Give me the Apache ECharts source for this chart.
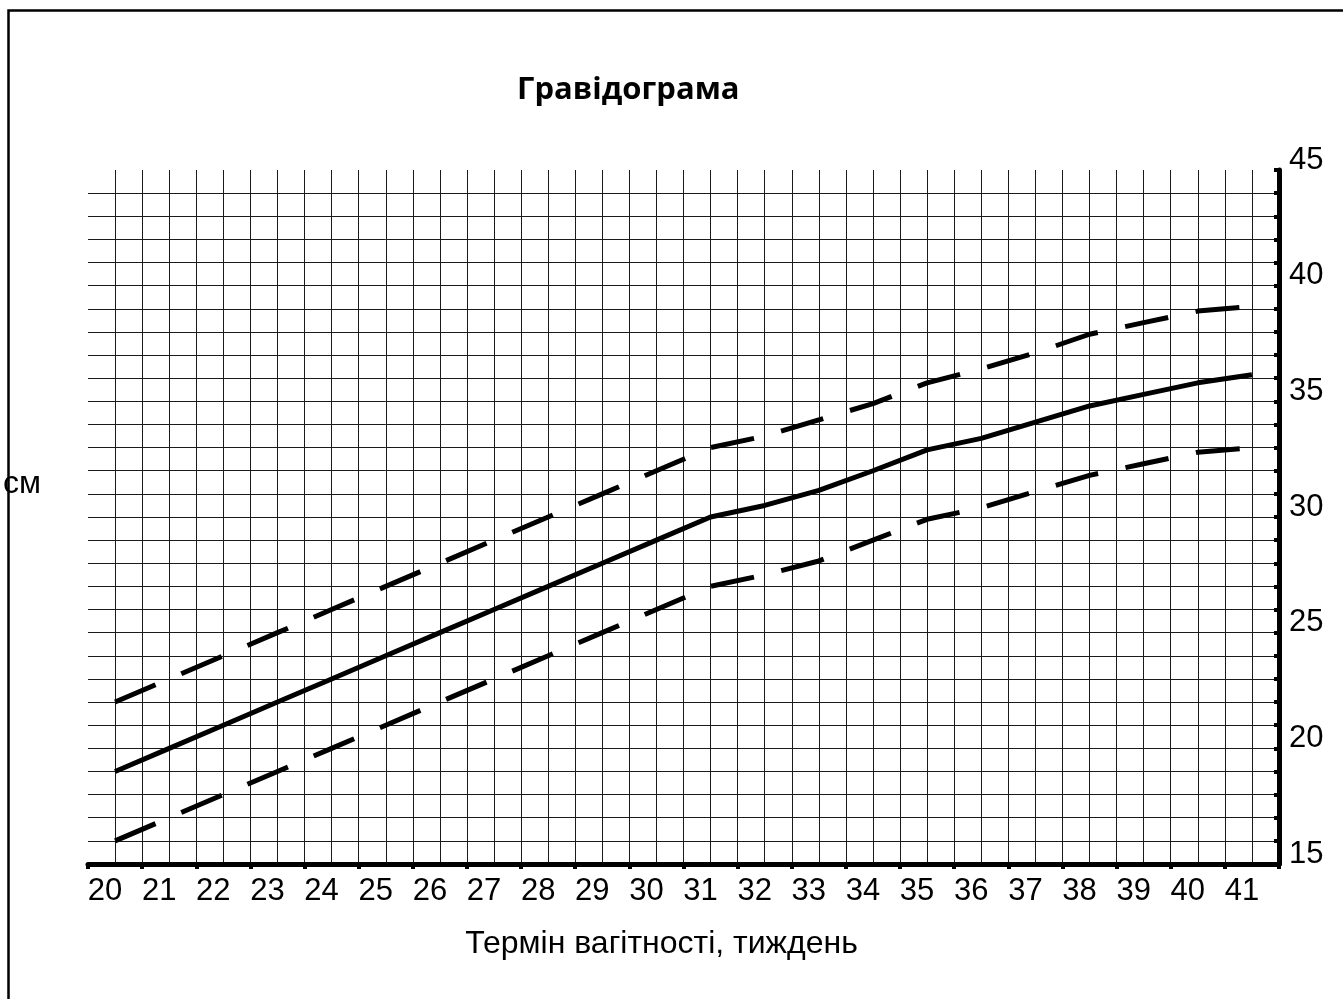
<!DOCTYPE html>
<html>
<head>
<meta charset="utf-8">
<script src="https://cdn.jsdelivr.net/npm/echarts@6/dist/echarts.min.js"></script>
<style>
html,body{margin:0;padding:0;background:#fff;}
#chart{width:1343px;height:999px;}
</style>
</head>
<body>
<div id="chart"></div>
<script>
// Categories: gestation week
const weeks = ['20','21','22','23','24','25','26','27','28','29','30','31','32','33','34','35','36','37','38','39','40','41'];
// Fundal height, cm (median and bounds)
const median = [19,20,21,22,23,24,25,26,27,28,29,30,30.5,31.15,32,32.9,33.4,34.1,34.8,35.3,35.8,36.15];
const upper  = [22,23,24,25,26,27,28,29,30,31,32,33,33.5,34.2,34.9,35.8,36.4,37.1,37.9,38.4,38.9,39.1];
const lower  = [16,17,18,19,20,21,22,23,24,25,26,27,27.5,28.1,29,29.9,30.4,31.1,31.8,32.3,32.8,33.0];
// Y axis range and labelled ticks
const yMin = 15, yMax = 45;
const yLabelStep = 5;

const titleText = 'Гравідограма';
const xName = 'Термін вагітності, тиждень';
const yName = 'см';

const chart = echarts.init(document.getElementById('chart'), null, {renderer:'canvas'});
const lineBase = {type:'line', symbol:'none', silent:true, xAxisIndex:0, yAxisIndex:0};
chart.setOption({
  animation:false,
  backgroundColor:'#fff',
  title:{
    text:titleText, left:512, top:70,
    textStyle:{fontFamily:'Open Sans', fontWeight:'bold', fontSize:31, color:'#000'}
  },
  grid:{left:88, top:170, right:64, bottom:135},
  xAxis:[
    {
      type:'category', data:weeks, boundaryGap:true, position:'bottom',
      axisLine:{show:true, onZero:false, lineStyle:{color:'#000', width:5}},
      axisTick:{show:true, interval:0, length:5, lineStyle:{color:'#000', width:4}},
      axisLabel:{interval:0, color:'#000', fontSize:31, fontFamily:'Liberation Sans', margin:12, padding:[0,20,0,0]},
      splitLine:{show:false},
      name:xName, nameLocation:'middle', nameGap:64,
      nameTextStyle:{color:'#000', fontSize:32, fontFamily:'Liberation Sans', padding:[0,44,0,0]}
    },
    {
      type:'value', min:0, max:44, interval:1, position:'top',
      axisLine:{show:false, onZero:false}, axisTick:{show:false}, axisLabel:{show:false},
      splitLine:{show:true, showMinLine:false, showMaxLine:false, lineStyle:{color:'#1a1a1a', width:1}}
    }
  ],
  yAxis:[{
    type:'value', position:'right', min:yMin, max:yMax, interval:1,
    axisLine:{show:true, onZero:false, lineStyle:{color:'#000', width:5}},
    axisTick:{show:true, inside:true, length:5, lineStyle:{color:'#000', width:4}},
    axisLabel:{color:'#000', fontSize:31, fontFamily:'Liberation Sans', margin:10,
      verticalAlign:'bottom', lineHeight:20,
      formatter:function(v){ return v % yLabelStep === 0 ? String(v) : ''; }},
    splitLine:{show:true, showMaxLine:false, lineStyle:{color:'#1a1a1a', width:1}}
  }],
  graphic:[
    {type:'rect', silent:true, z:100, shape:{x:8.5, y:10.5, width:1400, height:1100},
      style:{fill:'none', stroke:'#000', lineWidth:2.5}},
    {type:'text', silent:true, z:100, x:3, y:484,
      style:{text:yName, font:'32px "Liberation Sans"', fill:'#000', align:'left', verticalAlign:'middle'}}
  ],
  series:[
    Object.assign({}, lineBase, {name:'median', data:median, lineStyle:{color:'#000', width:5}, z:5}),
    Object.assign({}, lineBase, {name:'upper', data:upper, lineStyle:{color:'#000', width:5, type:[44,28]}, z:5}),
    Object.assign({}, lineBase, {name:'lower', data:lower, lineStyle:{color:'#000', width:5, type:[44,28]}, z:5})
  ]
});
</script>
</body>
</html>
